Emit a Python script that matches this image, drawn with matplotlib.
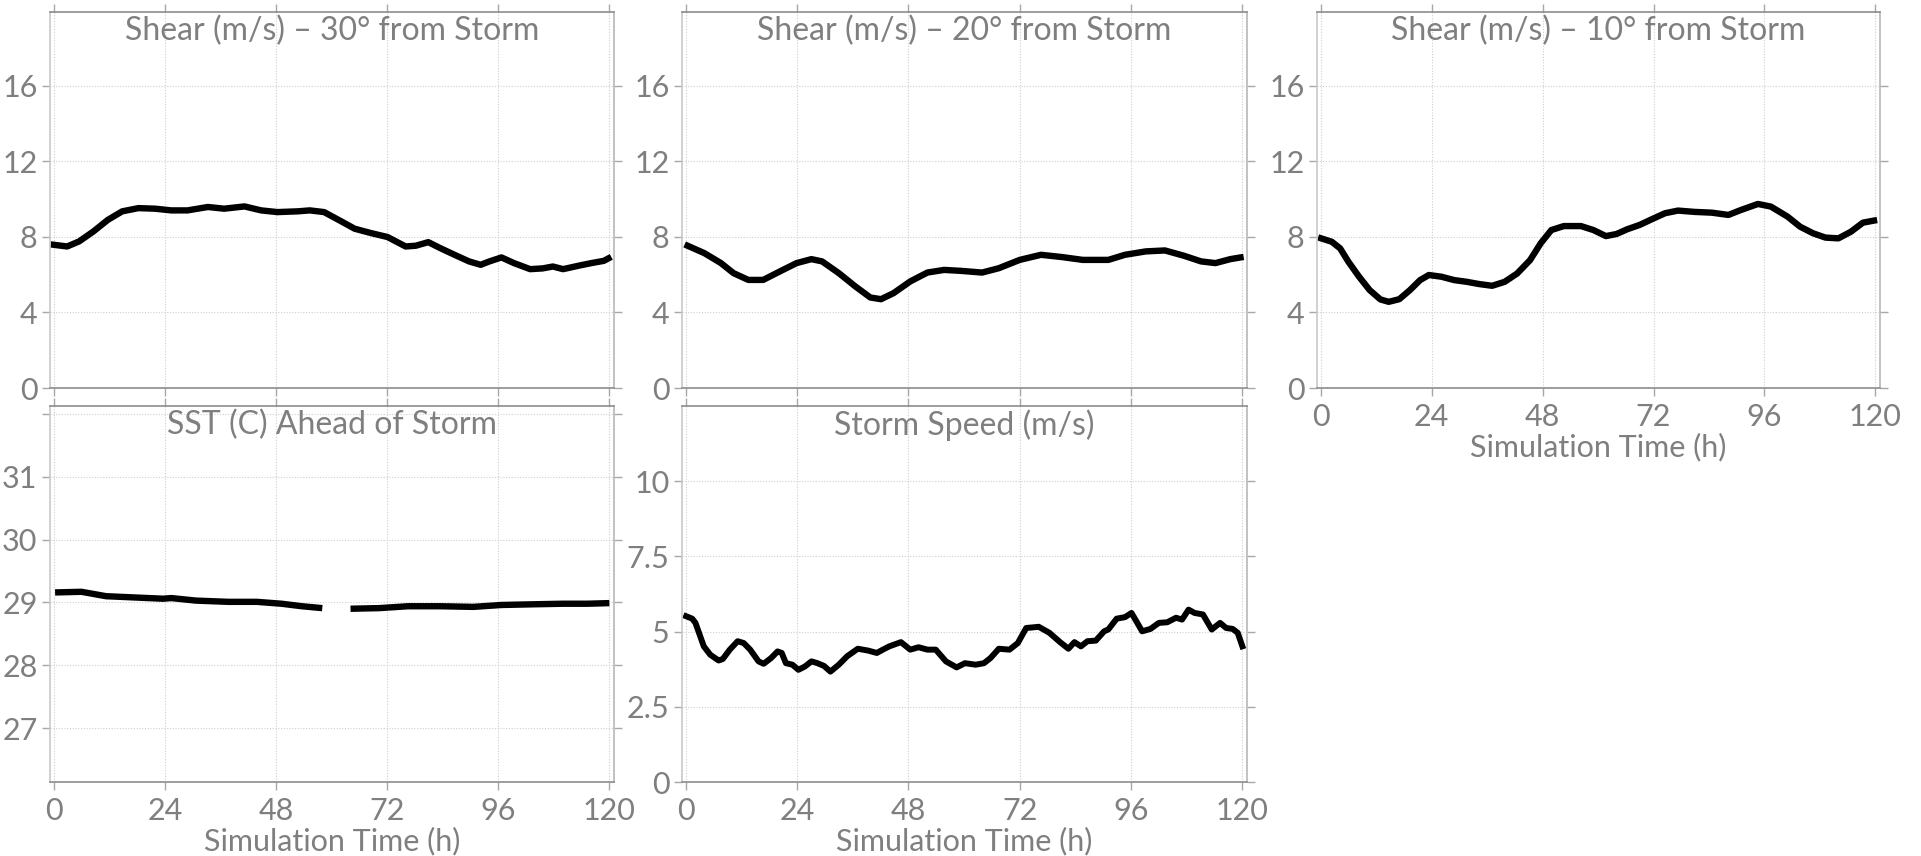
import numpy as np
import matplotlib
matplotlib.use('Agg')
import matplotlib.pyplot as plt

# humanist gray sans, close to the Calibri look of the original
plt.rcParams['font.family'] = ['Lato', 'DejaVu Sans']

# --- data (hours, value) ---
t_sh30 = [0, 2.9, 5.5, 8.6, 11.7, 14.8, 18.3, 21.9, 25.4, 28.9, 33.3, 36.8, 41.2,
          44.8, 48.3, 52.7, 55.3, 58.4, 61.5, 65.0, 68.5, 72.1, 76.0, 78.2, 80.9,
          83.5, 87.0, 89.7, 92.2, 94.1, 96.7, 99.4, 102.9, 105.6, 107.8, 110.0,
          113.5, 116.1, 118.8, 119.8]
sh30 = [7.58, 7.49, 7.76, 8.29, 8.9, 9.35, 9.52, 9.49, 9.4, 9.4, 9.58, 9.49, 9.61,
        9.4, 9.31, 9.35, 9.4, 9.31, 8.9, 8.43, 8.2, 7.99, 7.49, 7.53, 7.72,
        7.4, 7.0, 6.7, 6.52, 6.7, 6.91, 6.61, 6.29, 6.33, 6.43, 6.29,
        6.48, 6.61, 6.73, 6.86]

t_sh20 = [0.4, 4.0, 7.6, 10.3, 13.5, 16.7, 20.3, 23.9, 27.1, 29.4, 33.0, 36.6, 39.8,
          42.1, 44.8, 48.4, 52.1, 55.7, 59.3, 63.9, 67.5, 72.0, 76.6, 81.1, 85.6,
          91.1, 94.7, 99.2, 103.3, 107.4, 111.1, 114.2, 117.4, 119.6]
sh20 = [7.53, 7.14, 6.61, 6.08, 5.72, 5.72, 6.17, 6.61, 6.82, 6.7, 6.08, 5.37, 4.79,
        4.7, 5.02, 5.64, 6.11, 6.25, 6.2, 6.11, 6.34, 6.78, 7.05, 6.93, 6.78,
        6.78, 7.05, 7.23, 7.28, 7.0, 6.7, 6.61, 6.82, 6.91]

t_sh10 = [0.1, 2.4, 4.2, 6.0, 8.3, 10.6, 12.9, 14.7, 17.0, 19.3, 21.5, 23.4, 26.1,
          28.9, 31.6, 34.3, 37.1, 39.8, 42.5, 45.3, 47.6, 49.9, 52.6, 56.3, 59.0,
          61.7, 64.0, 66.3, 69.0, 71.8, 74.5, 77.3, 80.9, 84.6, 88.2, 90.9, 94.6,
          97.4, 101.0, 103.7, 106.5, 109.2, 112.0, 114.7, 117.3, 119.7]
sh10 = [7.92, 7.74, 7.39, 6.68, 5.89, 5.18, 4.69, 4.56, 4.70, 5.18, 5.71, 5.98, 5.89,
        5.71, 5.62, 5.50, 5.41, 5.62, 6.06, 6.77, 7.66, 8.36, 8.57, 8.57, 8.36,
        8.04, 8.15, 8.40, 8.63, 8.95, 9.25, 9.39, 9.32, 9.28, 9.16, 9.42, 9.74,
        9.60, 9.07, 8.54, 8.19, 7.96, 7.92, 8.27, 8.75, 8.86]

# SST has a gap of missing values around 58-64 h
t_sst = [0.3, 6.0, 11.3, 17.4, 23.6, 25.4, 30.7, 37.7, 43.9, 49.2, 53.6, 58.0, 61.0,
         64.1, 70.3, 76.5, 83.5, 90.6, 96.7, 102.9, 110.0, 115.3, 120.0]
sst = [29.16, 29.17, 29.10, 29.08, 29.06, 29.07, 29.03, 29.01, 29.01, 28.98, 28.94, 28.91, np.nan,
       28.90, 28.91, 28.94, 28.94, 28.93, 28.96, 28.97, 28.98, 28.98, 28.99]

t_spd = [0.1, 1.4, 2.1, 3.0, 3.9, 5.3, 7.1, 8.0, 9.5, 11.2, 12.5, 13.9, 15.7, 16.8,
         18.4, 19.8, 20.7, 21.6, 23.0, 24.3, 25.7, 27.1, 28.4, 29.8, 31.2, 33.0,
         34.8, 37.1, 39.3, 41.2, 42.5, 43.9, 46.4, 48.4, 50.2, 52.1, 53.9, 56.1,
         58.4, 60.2, 62.5, 64.3, 65.7, 67.5, 69.8, 71.6, 73.4, 74.8, 76.1, 78.4,
         80.7, 82.5, 83.8, 85.2, 86.6, 88.4, 90.2, 91.1, 92.9, 94.7, 96.1, 98.4,
         100.2, 102.0, 103.8, 105.7, 107.0, 108.4, 109.7, 111.5, 113.4, 115.2,
         116.5, 117.9, 119.0, 120.0]
spd = [5.51, 5.43, 5.29, 4.90, 4.51, 4.23, 4.04, 4.09, 4.40, 4.68, 4.62, 4.40, 4.01, 3.93,
       4.12, 4.34, 4.29, 3.95, 3.90, 3.73, 3.84, 4.01, 3.95, 3.86, 3.67, 3.90,
       4.18, 4.43, 4.37, 4.29, 4.40, 4.51, 4.65, 4.40, 4.48, 4.40, 4.40, 4.01,
       3.81, 3.95, 3.90, 3.95, 4.12, 4.43, 4.40, 4.62, 5.12, 5.14, 5.16, 4.96,
       4.65, 4.43, 4.65, 4.51, 4.68, 4.70, 5.01, 5.07, 5.43, 5.48, 5.62, 5.01,
       5.09, 5.29, 5.31, 5.46, 5.40, 5.73, 5.62, 5.57, 5.07, 5.29,
       5.12, 5.09, 4.96, 4.51]

xticks = [0, 24, 48, 72, 96, 120]
shear_ticks = [0, 4, 8, 12, 16]
sst_ticks = [27, 28, 29, 30, 31, 32]
sst_labels = ['27', '28', '29', '30', '31', '']
spd_ticks = [0, 2.5, 5, 7.5, 10]
spd_labels = ['0', '2.5', '5', '7.5', '10']

GRAY = '#7f7f7f'
W, H = 1921, 856

fig = plt.figure(figsize=(W / 100, H / 100), dpi=100)


def make_ax(x0, y0, x1, y1):
    # pixel box (top-left origin) -> figure fraction
    return fig.add_axes([x0 / W, 1 - y1 / H, (x1 - x0) / W, (y1 - y0) / H])


def style(ax, title, yt, ylab, ylim, xlabels):
    ax.set_xlim(-0.8, 121)
    ax.set_ylim(*ylim)
    ax.set_xticks(xticks)
    ax.set_yticks(yt)
    ax.set_yticklabels(ylab)
    ax.grid(True, linestyle=(0, (1, 1.5)), linewidth=0.8, color='#cfcfcf')
    ax.tick_params(direction='out', length=6, width=1, color='#a8a8a8',
                   labelcolor=GRAY, labelsize=22, top=True, right=True,
                   labelbottom=xlabels, pad=3)
    ax.tick_params(axis='x', pad=5)
    ax.spines['left'].set_color('#c8c8c8')
    ax.spines['right'].set_color('#b8b8b8')
    ax.spines['top'].set_color('#8c8c8c')
    ax.spines['bottom'].set_color('#8c8c8c')
    for s in ax.spines.values():
        s.set_linewidth(1.2)
    ax.text(0.5, 0.924, title, transform=ax.transAxes, ha='center',
            va='baseline', fontsize=23, color=GRAY)
    if xlabels:
        ax.set_xlabel('Simulation Time (h)', fontsize=22, color=GRAY, labelpad=1)


lw = 4.6
ax1 = make_ax(50, 12, 614, 388)
ax1.plot(t_sh30, sh30, color='black', lw=lw)
style(ax1, 'Shear (m/s) – 30° from Storm', shear_ticks, shear_ticks, (0, 19.9), False)

ax2 = make_ax(682, 12, 1247, 388)
ax2.plot(t_sh20, sh20, color='black', lw=lw)
style(ax2, 'Shear (m/s) – 20° from Storm', shear_ticks, shear_ticks, (0, 19.9), False)

ax3 = make_ax(1317, 12, 1880, 388)
ax3.plot(t_sh10, sh10, color='black', lw=lw)
style(ax3, 'Shear (m/s) – 10° from Storm', shear_ticks, shear_ticks, (0, 19.9), True)

ax4 = make_ax(50, 406, 614, 782)
ax4.plot(t_sst, sst, color='black', lw=lw, solid_capstyle='butt')
style(ax4, 'SST (C) Ahead of Storm', sst_ticks, sst_labels, (26.14, 32.13), True)

ax5 = make_ax(682, 406, 1247, 782)
ax5.plot(t_spd, spd, color='black', lw=4.3)
style(ax5, 'Storm Speed (m/s)', spd_ticks, spd_labels, (0, 12.5), True)

fig.savefig('out.png', dpi=100)
